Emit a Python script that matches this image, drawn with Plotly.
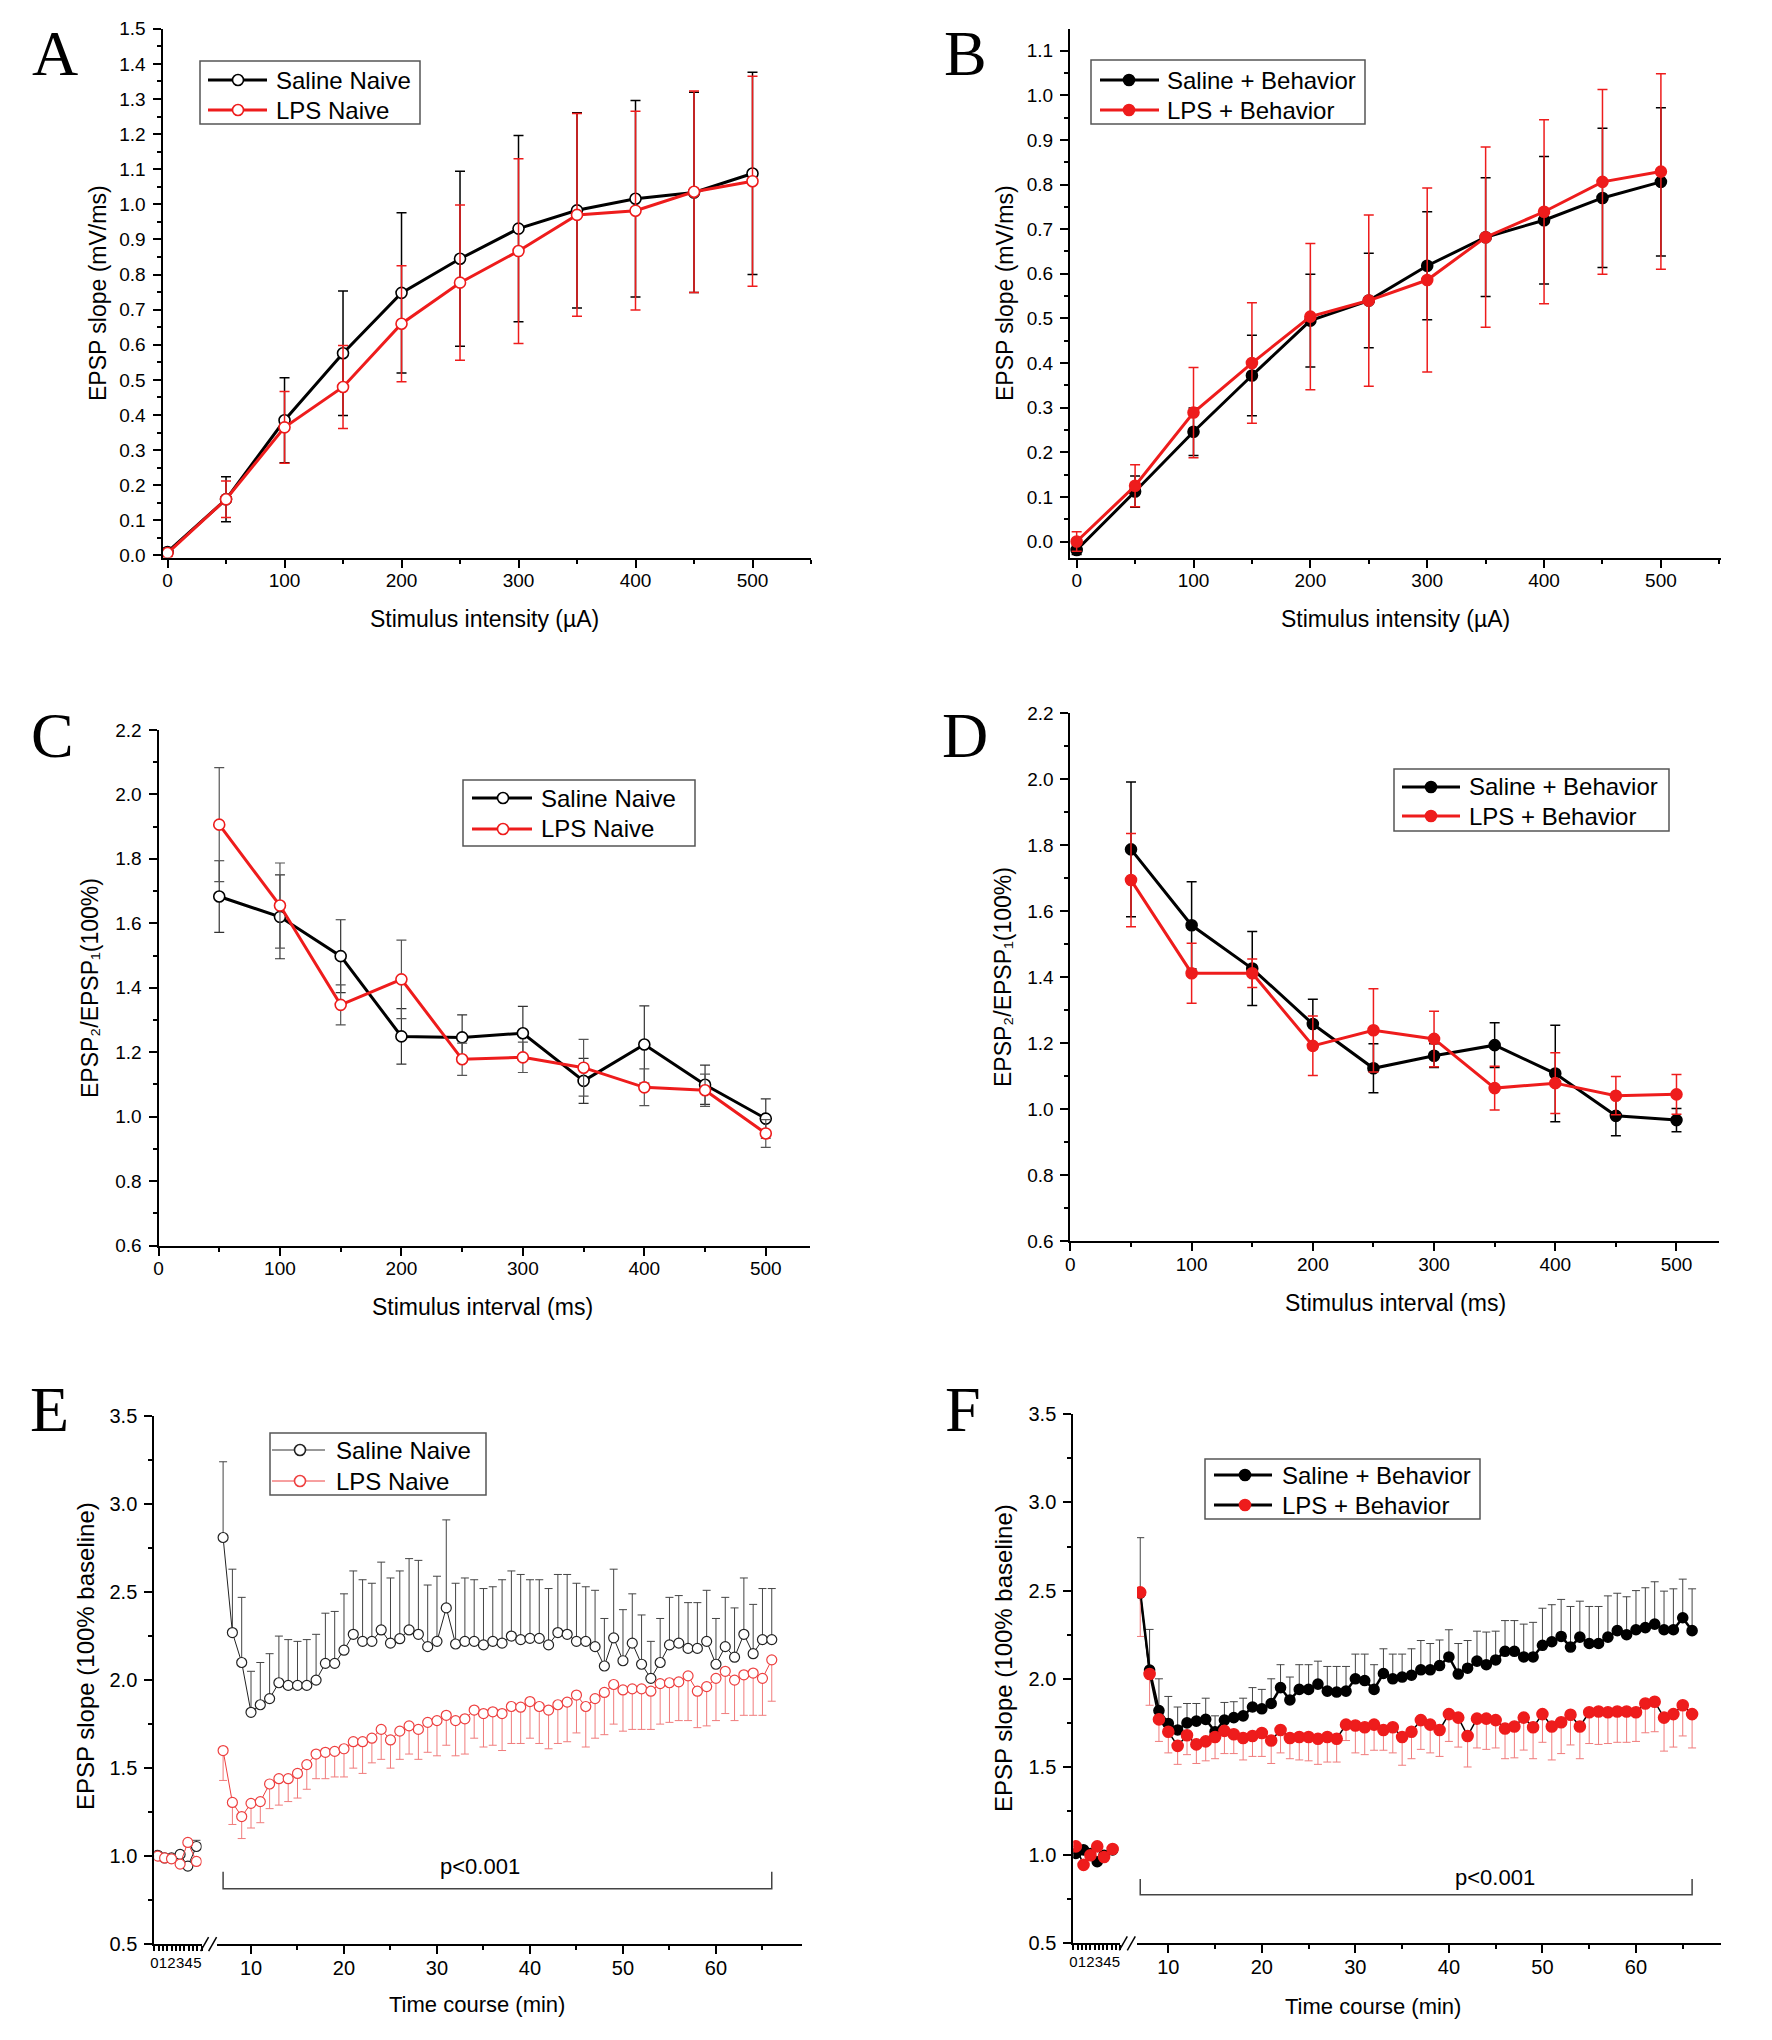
import plotly.graph_objects as go

# ---------------- data ----------------
intensity = [0, 50, 100, 150, 200, 250, 300, 350, 400, 450, 500]
A_saline = [0.01, 0.16, 0.385, 0.576, 0.748, 0.845, 0.931, 0.983, 1.016, 1.034, 1.088]
A_saline_err = [0.01, 0.064, 0.121, 0.177, 0.228, 0.249, 0.265, 0.278, 0.28, 0.285, 0.288]
A_lps = [0.007, 0.16, 0.365, 0.48, 0.66, 0.777, 0.867, 0.97, 0.982, 1.036, 1.066]
A_lps_err = [0.01, 0.052, 0.102, 0.118, 0.165, 0.221, 0.263, 0.289, 0.283, 0.287, 0.299]

B_saline = [-0.019, 0.112, 0.246, 0.372, 0.495, 0.54, 0.618, 0.682, 0.72, 0.77, 0.806]
B_saline_err = [0.01, 0.035, 0.053, 0.09, 0.104, 0.106, 0.121, 0.133, 0.143, 0.156, 0.166]
B_lps = [0.0, 0.125, 0.289, 0.40, 0.504, 0.54, 0.586, 0.682, 0.739, 0.806, 0.829]
B_lps_err = [0.022, 0.047, 0.101, 0.135, 0.164, 0.192, 0.206, 0.202, 0.206, 0.207, 0.219]

interval = [50, 100, 150, 200, 250, 300, 350, 400, 450, 500]
C_saline = [1.683, 1.62, 1.498, 1.249, 1.246, 1.259, 1.111, 1.224, 1.099, 0.994]
C_saline_err = [0.111, 0.13, 0.113, 0.086, 0.07, 0.083, 0.07, 0.12, 0.061, 0.061]
C_lps = [1.906, 1.655, 1.347, 1.426, 1.178, 1.184, 1.152, 1.091, 1.082, 0.948]
C_lps_err = [0.177, 0.132, 0.062, 0.122, 0.05, 0.047, 0.088, 0.057, 0.05, 0.043]

D_saline = [1.787, 1.557, 1.426, 1.258, 1.124, 1.162, 1.194, 1.108, 0.98, 0.967]
D_saline_err = [0.204, 0.132, 0.112, 0.075, 0.074, 0.036, 0.068, 0.146, 0.06, 0.035]
D_lps = [1.694, 1.412, 1.412, 1.192, 1.239, 1.213, 1.064, 1.079, 1.041, 1.045]
D_lps_err = [0.141, 0.091, 0.043, 0.09, 0.126, 0.084, 0.066, 0.092, 0.058, 0.06]

# time course: baseline minutes and post-stimulation minutes
E_base_t = [0.4, 1.2, 2.0, 3.0, 3.9, 4.9]
E_sal_base = [1.005, 0.99, 0.99, 1.01, 0.944, 1.055]
E_sal_base_err = [0.01, 0.015, 0.015, 0.02, 0.02, 0.035]
E_lps_base = [1.0, 0.99, 0.985, 0.955, 1.078, 0.97]
E_lps_base_err = [0.01, 0.01, 0.015, 0.015, 0.02, 0.02]

post_t = list(range(7, 67))
E_sal_post = [2.81, 2.27, 2.10, 1.817, 1.86, 1.895, 1.985, 1.97, 1.97, 1.97,
              2.00, 2.095, 2.095, 2.17, 2.26, 2.22, 2.22, 2.285, 2.21, 2.235,
              2.285, 2.26, 2.19, 2.22, 2.41, 2.205, 2.22, 2.22, 2.20, 2.22,
              2.21, 2.25, 2.23, 2.237, 2.237, 2.20, 2.27, 2.26, 2.22, 2.22,
              2.19, 2.08, 2.24, 2.11, 2.21, 2.09, 2.01, 2.10, 2.20, 2.21,
              2.18, 2.18, 2.22, 2.09, 2.19, 2.13, 2.26, 2.15, 2.23, 2.23]
E_sal_post_err = [0.43, 0.36, 0.37, 0.233, 0.24, 0.255, 0.265, 0.26, 0.25, 0.26,
                  0.26, 0.285, 0.295, 0.32, 0.36, 0.35, 0.33, 0.385, 0.37, 0.385,
                  0.405, 0.42, 0.35, 0.37, 0.50, 0.345, 0.36, 0.35, 0.32, 0.31,
                  0.36, 0.37, 0.37, 0.333, 0.333, 0.32, 0.33, 0.34, 0.33, 0.31,
                  0.32, 0.27, 0.39, 0.29, 0.28, 0.28, 0.21, 0.25, 0.27, 0.27,
                  0.26, 0.26, 0.29, 0.26, 0.28, 0.28, 0.32, 0.28, 0.29, 0.29]
E_lps_post = [1.60, 1.305, 1.225, 1.30, 1.31, 1.41, 1.44, 1.44, 1.47, 1.52,
              1.58, 1.59, 1.595, 1.61, 1.65, 1.65, 1.67, 1.72, 1.66, 1.71,
              1.74, 1.72, 1.76, 1.77, 1.80, 1.77, 1.78, 1.83, 1.81, 1.82,
              1.81, 1.85, 1.846, 1.878, 1.85, 1.83, 1.86, 1.875, 1.915, 1.85,
              1.895, 1.93, 1.975, 1.944, 1.95, 1.95, 1.937, 1.98, 1.985, 1.99,
              2.024, 1.937, 1.963, 2.01, 2.05, 2.0, 2.03, 2.04, 2.01, 2.115]
E_lps_post_err = [0.17, 0.125, 0.125, 0.14, 0.12, 0.14, 0.15, 0.13, 0.14, 0.14,
                  0.14, 0.15, 0.145, 0.16, 0.15, 0.18, 0.14, 0.17, 0.16, 0.16,
                  0.16, 0.17, 0.17, 0.20, 0.17, 0.20, 0.20, 0.16, 0.19, 0.19,
                  0.21, 0.21, 0.206, 0.208, 0.21, 0.22, 0.22, 0.225, 0.215, 0.23,
                  0.225, 0.24, 0.225, 0.234, 0.23, 0.23, 0.217, 0.23, 0.225, 0.22,
                  0.254, 0.207, 0.223, 0.24, 0.24, 0.23, 0.23, 0.24, 0.21, 0.235]

F_base_t = [0.3, 1.2, 2.0, 2.8, 3.6, 4.6]
F_sal_base = [1.01, 1.03, 1.01, 0.963, 1.0, 1.03]
F_sal_base_err = [0.02, 0.02, 0.02, 0.02, 0.02, 0.02]
F_lps_base = [1.05, 0.945, 1.0, 1.05, 0.99, 1.035]
F_lps_base_err = [0.02, 0.02, 0.02, 0.02, 0.02, 0.02]

F_sal_post = [2.485, 2.05, 1.82, 1.747, 1.71, 1.75, 1.76, 1.77, 1.70, 1.766,
              1.78, 1.79, 1.84, 1.83, 1.86, 1.95, 1.88, 1.94, 1.94, 1.97,
              1.93, 1.925, 1.93, 2.0, 1.99, 1.94, 2.03, 2.0, 2.01, 2.02,
              2.051, 2.051, 2.075, 2.124, 2.027, 2.06, 2.10, 2.08, 2.107, 2.156,
              2.156, 2.124, 2.124, 2.19, 2.21, 2.24, 2.18, 2.236, 2.20, 2.20,
              2.236, 2.273, 2.25, 2.278, 2.29, 2.31, 2.278, 2.278, 2.346, 2.273]
F_sal_post_err = [0.315, 0.23, 0.18, 0.153, 0.13, 0.11, 0.10, 0.12, 0.09, 0.10,
                  0.09, 0.10, 0.11, 0.11, 0.14, 0.13, 0.13, 0.14, 0.14, 0.13,
                  0.14, 0.145, 0.14, 0.14, 0.15, 0.14, 0.14, 0.14, 0.13, 0.15,
                  0.166, 0.149, 0.145, 0.154, 0.173, 0.157, 0.17, 0.185, 0.163, 0.174,
                  0.174, 0.186, 0.196, 0.21, 0.21, 0.21, 0.23, 0.204, 0.21, 0.21,
                  0.234, 0.212, 0.215, 0.222, 0.226, 0.24, 0.219, 0.232, 0.219, 0.237]
F_lps_post = [2.49, 2.027, 1.77, 1.70, 1.62, 1.68, 1.628, 1.645, 1.67, 1.705,
              1.686, 1.664, 1.676, 1.693, 1.65, 1.71, 1.664, 1.67, 1.67, 1.66,
              1.67, 1.66, 1.74, 1.735, 1.725, 1.74, 1.71, 1.725, 1.67, 1.70,
              1.766, 1.74, 1.71, 1.80, 1.78, 1.676, 1.774, 1.774, 1.766, 1.718,
              1.73, 1.78, 1.725, 1.80, 1.73, 1.754, 1.796, 1.73, 1.81, 1.815,
              1.81, 1.815, 1.815, 1.81, 1.86, 1.87, 1.78, 1.80, 1.85, 1.80]
F_lps_post_err = [0.25, 0.177, 0.125, 0.12, 0.105, 0.11, 0.108, 0.11, 0.123, 0.129,
                  0.11, 0.124, 0.116, 0.133, 0.13, 0.13, 0.117, 0.13, 0.135, 0.145,
                  0.142, 0.132, 0.09, 0.155, 0.155, 0.145, 0.115, 0.145, 0.16, 0.153,
                  0.166, 0.16, 0.15, 0.155, 0.167, 0.176, 0.166, 0.174, 0.158, 0.171,
                  0.178, 0.184, 0.178, 0.16, 0.19, 0.178, 0.171, 0.183, 0.177, 0.187,
                  0.177, 0.175, 0.175, 0.165, 0.166, 0.17, 0.19, 0.187, 0.174, 0.192]

baseline_ticks = [0, 1, 2, 3, 4, 5]

# ---------------- geometry helpers ----------------
W, H = 1756, 2024
OFF = 8  # default page body margin


def fx(px):
    return (px - OFF) / W


def fy(py):
    return 1 - (py - OFF) / H


FONT = "Liberation Sans, Arial, sans-serif"
SERIF = "Liberation Serif, Times New Roman, serif"
RED = "#ee1c1c"
ERR_RED = "#f07c7c"
E_BLACK = "#222222"
E_RED = "#ee4040"

fig = go.Figure()


def add_series(x, y, err, name, xa, ya, color, filled, msize=11, lw=3,
               lcolor=None, ecolor=None, direction="both", ethick=1.5, ewidth=5, mlw=1.6):
    ecolor = ecolor or color
    n = len(err)
    if direction == "both":
        ey = dict(type="data", array=err, color=ecolor, thickness=ethick, width=ewidth)
    elif direction == "up":
        ey = dict(type="data", symmetric=False, array=err, arrayminus=[0] * n,
                  color=ecolor, thickness=ethick, width=ewidth)
    else:
        ey = dict(type="data", symmetric=False, array=[0] * n, arrayminus=err,
                  color=ecolor, thickness=ethick, width=ewidth)
    marker = dict(symbol="circle", size=msize,
                  color=color if filled else "white",
                  line=dict(color=color, width=mlw))
    fig.add_trace(go.Scatter(x=x, y=y, mode="lines+markers", name=name,
                             xaxis=xa, yaxis=ya,
                             line=dict(color=lcolor or color, width=lw),
                             marker=marker, error_y=ey, showlegend=False))


# Panel A
add_series(intensity, A_saline, A_saline_err, "Saline Naive", "x", "y", "black", False)
add_series(intensity, A_lps, A_lps_err, "LPS Naive", "x", "y", RED, False)
# Panel B
add_series(intensity, B_saline, B_saline_err, "Saline + Behavior", "x2", "y2", "black", True)
add_series(intensity, B_lps, B_lps_err, "LPS + Behavior", "x2", "y2", RED, True)
# Panel C
add_series(interval, C_saline, C_saline_err, "Saline Naive", "x3", "y3", "black", False,
           ecolor="#333333", ethick=1.2)
add_series(interval, C_lps, C_lps_err, "LPS Naive", "x3", "y3", RED, False,
           ecolor="#555555", ethick=1.2)
# Panel D
add_series(interval, D_saline, D_saline_err, "Saline + Behavior", "x4", "y4", "black", True)
add_series(interval, D_lps, D_lps_err, "LPS + Behavior", "x4", "y4", RED, True)

# Panel E
ekw = dict(msize=10, lw=1, ethick=1, ewidth=4, mlw=1.2)
add_series(E_base_t, E_sal_base, E_sal_base_err, "Saline Naive", "x5", "y5", E_BLACK, False,
           ecolor="#444444", direction="up", **ekw)
add_series(E_base_t, E_lps_base, E_lps_base_err, "LPS Naive", "x5", "y5", E_RED, False,
           ecolor=ERR_RED, direction="down", **ekw)
add_series(post_t, E_sal_post, E_sal_post_err, "Saline Naive", "x6", "y5", E_BLACK, False,
           ecolor="#444444", direction="up", **ekw)
add_series(post_t, E_lps_post, E_lps_post_err, "LPS Naive", "x6", "y5", E_RED, False,
           ecolor=ERR_RED, direction="down", **ekw)

# Panel F
add_series(F_base_t, F_sal_base, F_sal_base_err, "Saline + Behavior", "x7", "y6", "black", True,
           msize=10, lw=2.5, ecolor="#444444", ethick=1, ewidth=4, direction="up")
add_series(F_base_t, F_lps_base, F_lps_base_err, "LPS + Behavior", "x7", "y6", RED, True,
           msize=11, lw=1.5, lcolor="black", ecolor=ERR_RED, ethick=1, ewidth=4, direction="down")
add_series(post_t, F_sal_post, F_sal_post_err, "Saline + Behavior", "x8", "y6", "black", True,
           msize=10, lw=2.5, ecolor="#444444", ethick=1, ewidth=4, direction="up")
add_series(post_t, F_lps_post, F_lps_post_err, "LPS + Behavior", "x8", "y6", RED, True,
           msize=11, lw=1.5, lcolor="black", ecolor=ERR_RED, ethick=1, ewidth=4, direction="down")


# ---------------- axes ----------------
def axis(domain, rng, anchor, dtick=None, minor_dtick=None, tickvals=None,
         fmt=None, fsize=19, ticklen=8, minor_len=4, standoff=None):
    a = dict(domain=domain, range=rng, anchor=anchor, showline=True, linecolor="black",
             linewidth=2, ticks="outside", ticklen=ticklen, tickwidth=1.5, tickcolor="black",
             showgrid=False, zeroline=False, mirror=False, fixedrange=True,
             automargin=False, tickangle=0,
             tickfont=dict(family=FONT, size=fsize, color="black"))
    if dtick is not None:
        a["dtick"] = dtick
        a["tick0"] = 0
    if tickvals is not None:
        a["tickmode"] = "array"
        a["tickvals"] = tickvals
        a["ticktext"] = [str(v) for v in tickvals]
    if fmt:
        a["tickformat"] = fmt
    if minor_dtick is not None:
        a["minor"] = dict(dtick=minor_dtick, tick0=0, ticks="outside", ticklen=minor_len,
                          tickwidth=1.5, tickcolor="black", showgrid=False)
    if standoff is not None:
        a["ticklabelstandoff"] = standoff
    return a


layout = dict(width=W, height=H, margin=dict(l=0, r=0, t=0, b=0, autoexpand=False),
              paper_bgcolor="white", plot_bgcolor="white", showlegend=False)

XS = -3  # x tick-label standoff
# A
layout["xaxis"] = axis([fx(162.5), fx(811)], [-4.3, 550], "y", dtick=100, minor_dtick=50, standoff=XS)
layout["yaxis"] = axis([fy(557.6), fy(28.8)], [-0.006, 1.5], "x", dtick=0.1, minor_dtick=0.05,
                       fmt=".1f", standoff=3)
# B
layout["xaxis2"] = axis([fx(1070), fx(1720.5)], [-5.7, 551], "y2", dtick=100, minor_dtick=50, standoff=XS)
layout["yaxis2"] = axis([fy(557.6), fy(28.8)], [-0.036, 1.149], "x2", dtick=0.1, minor_dtick=0.05,
                        fmt=".1f", standoff=3)
# C
layout["xaxis3"] = axis([fx(158.5), fx(809.5)], [0, 536], "y3", dtick=100, minor_dtick=50, standoff=XS)
layout["yaxis3"] = axis([fy(1245.6), fy(729.9)], [0.6, 2.2], "x3", dtick=0.2, minor_dtick=0.1,
                        fmt=".1f", standoff=3)
# D
layout["xaxis4"] = axis([fx(1070.4), fx(1719.4)], [0, 535.4], "y4", dtick=100, minor_dtick=50, standoff=XS)
layout["yaxis4"] = axis([fy(1241.3), fy(713)], [0.6, 2.2], "x4", dtick=0.2, minor_dtick=0.1,
                        fmt=".1f", standoff=3)
# E
layout["xaxis5"] = axis([fx(154.3), fx(201.6)], [0, 5.5], "y5", tickvals=baseline_ticks,
                        minor_dtick=0.5, fsize=15, ticklen=5, minor_len=5, standoff=-1)
layout["xaxis6"] = axis([fx(217), fx(801.7)], [6.344, 69.22], "y5", dtick=10, minor_dtick=5,
                        fsize=20, standoff=XS)
layout["yaxis5"] = axis([fy(1944.2), fy(1416)], [0.5, 3.5], "x5", dtick=0.5, minor_dtick=0.25,
                        fmt=".1f", fsize=20, standoff=3)
# F
layout["xaxis7"] = axis([fx(1073.3), fx(1120.3)], [0, 5.5], "y6", tickvals=baseline_ticks,
                        minor_dtick=0.5, fsize=15, ticklen=5, minor_len=5, standoff=-1)
layout["xaxis8"] = axis([fx(1137), fx(1721)], [6.654, 69.09], "y6", dtick=10, minor_dtick=5,
                        fsize=20, standoff=XS)
layout["yaxis6"] = axis([fy(1943.4), fy(1414.2)], [0.5, 3.5], "x7", dtick=0.5, minor_dtick=0.25,
                        fmt=".1f", fsize=20, standoff=3)

# ---------------- annotations & shapes ----------------
ann = []
shapes = []


def text(xpx, ypx, s, size, angle=0, family=FONT, xanchor="center"):
    ann.append(dict(x=fx(xpx), y=fy(ypx), xref="paper", yref="paper", text=s, showarrow=False,
                    textangle=angle, xanchor=xanchor, yanchor="middle",
                    font=dict(family=family, size=size, color="black")))


def legend_box(box, line_x, mk_x, text_x, entries, fsize=24):
    x0, y0, x1, y1 = box
    shapes.append(dict(type="rect", xref="paper", yref="paper", x0=fx(x0), x1=fx(x1),
                       y0=fy(y1), y1=fy(y0), fillcolor="white",
                       line=dict(color="#555555", width=1.5), layer="above"))
    for (row, label, lcol, lw, mcol, filled) in entries:
        shapes.append(dict(type="line", xref="paper", yref="paper",
                           x0=fx(line_x[0]), x1=fx(line_x[1]), y0=fy(row), y1=fy(row),
                           line=dict(color=lcol, width=lw), layer="above"))
        r = 5.5
        shapes.append(dict(type="circle", xref="paper", yref="paper",
                           x0=fx(mk_x - r), x1=fx(mk_x + r), y0=fy(row + r), y1=fy(row - r),
                           fillcolor=mcol if filled else "white",
                           line=dict(color=mcol, width=1.6), layer="above"))
        text(text_x, row, label, fsize, xanchor="left")


legend_box((200, 61, 420, 124), (208, 267), 238, 274,
           [(80, "Saline Naive", "black", 3, "black", False),
            (110, "LPS Naive", RED, 3, RED, False)])
legend_box((1091, 60, 1365, 124), (1100, 1159), 1129, 1165,
           [(80, "Saline + Behavior", "black", 3, "black", True),
            (110, "LPS + Behavior", RED, 3, RED, True)])
legend_box((463, 780, 695, 846), (472, 532), 503, 539,
           [(798, "Saline Naive", "black", 3, "black", False),
            (829, "LPS Naive", RED, 3, RED, False)])
legend_box((1394, 769, 1669, 831), (1402, 1460), 1431, 1467,
           [(787, "Saline + Behavior", "black", 3, "black", True),
            (816, "LPS + Behavior", RED, 3, RED, True)])
legend_box((270, 1433, 486, 1495), (272, 325), 300, 334,
           [(1450, "Saline Naive", "#333333", 1, E_BLACK, False),
            (1481, "LPS Naive", E_RED, 1, E_RED, False)])
legend_box((1205, 1459, 1480, 1519), (1214, 1272), 1245, 1280,
           [(1475, "Saline + Behavior", "black", 3, "black", True),
            (1505, "LPS + Behavior", "black", 3, RED, True)])

for letter, (lx, ly) in {"A": (55, 53), "B": (965, 53), "C": (52, 735), "D": (965, 735),
                         "E": (49, 1409), "F": (963, 1409)}.items():
    text(lx, ly, letter, 64, family=SERIF)

text(484, 619, "Stimulus intensity (\u00b5A)", 23)
text(1395, 619, "Stimulus intensity (\u00b5A)", 23)
text(483, 1307, "Stimulus interval (ms)", 23)
text(1395, 1303, "Stimulus interval (ms)", 23)
text(477, 2004, "Time course (min)", 22)
text(1373, 2006, "Time course (min)", 22)

PPR_TITLE = "EPSP\u2082/EPSP\u2081(100%)"
text(98, 293, "EPSP slope (mV/ms)", 23, angle=-90)
text(1005, 293, "EPSP slope (mV/ms)", 23, angle=-90)
text(90, 988, PPR_TITLE, 23, angle=-90)
text(1003, 977, PPR_TITLE, 23, angle=-90)
text(85, 1656, "EPSP slope (100% baseline)", 24, angle=-90)
text(1003, 1658, "EPSP slope (100% baseline)", 24, angle=-90)

ann.append(dict(x=34.6, y=0.94, xref="x6", yref="y5", text="p<0.001", showarrow=False,
                font=dict(family=FONT, size=22, color="black")))
ann.append(dict(x=44.9, y=0.871, xref="x8", yref="y6", text="p<0.001", showarrow=False,
                font=dict(family=FONT, size=22, color="black")))
layout["annotations"] = ann

# significance brackets spanning the post-stimulation period
for xr, yr, ybar, ytop in (("x6", "y5", 0.815, 0.912), ("x8", "y6", 0.776, 0.865)):
    t0, t1 = post_t[0], post_t[-1]
    shapes.append(dict(type="path", xref=xr, yref=yr,
                       path=f"M {t0},{ytop} L {t0},{ybar} L {t1},{ybar} L {t1},{ytop}",
                       line=dict(color="#444444", width=1.5)))

# axis-break marks
for xl, xr, yax in ((201.6, 217, 1944.2), (1120.3, 1137, 1943.4)):
    for x0 in (xl - 1, xl + 7):
        shapes.append(dict(type="line", xref="paper", yref="paper",
                           x0=fx(x0), y0=fy(yax + 7), x1=fx(x0 + 8), y1=fy(yax - 7),
                           line=dict(color="black", width=1.5)))
layout["shapes"] = shapes

fig.update_layout(**layout)
fig.write_html("out.html")
